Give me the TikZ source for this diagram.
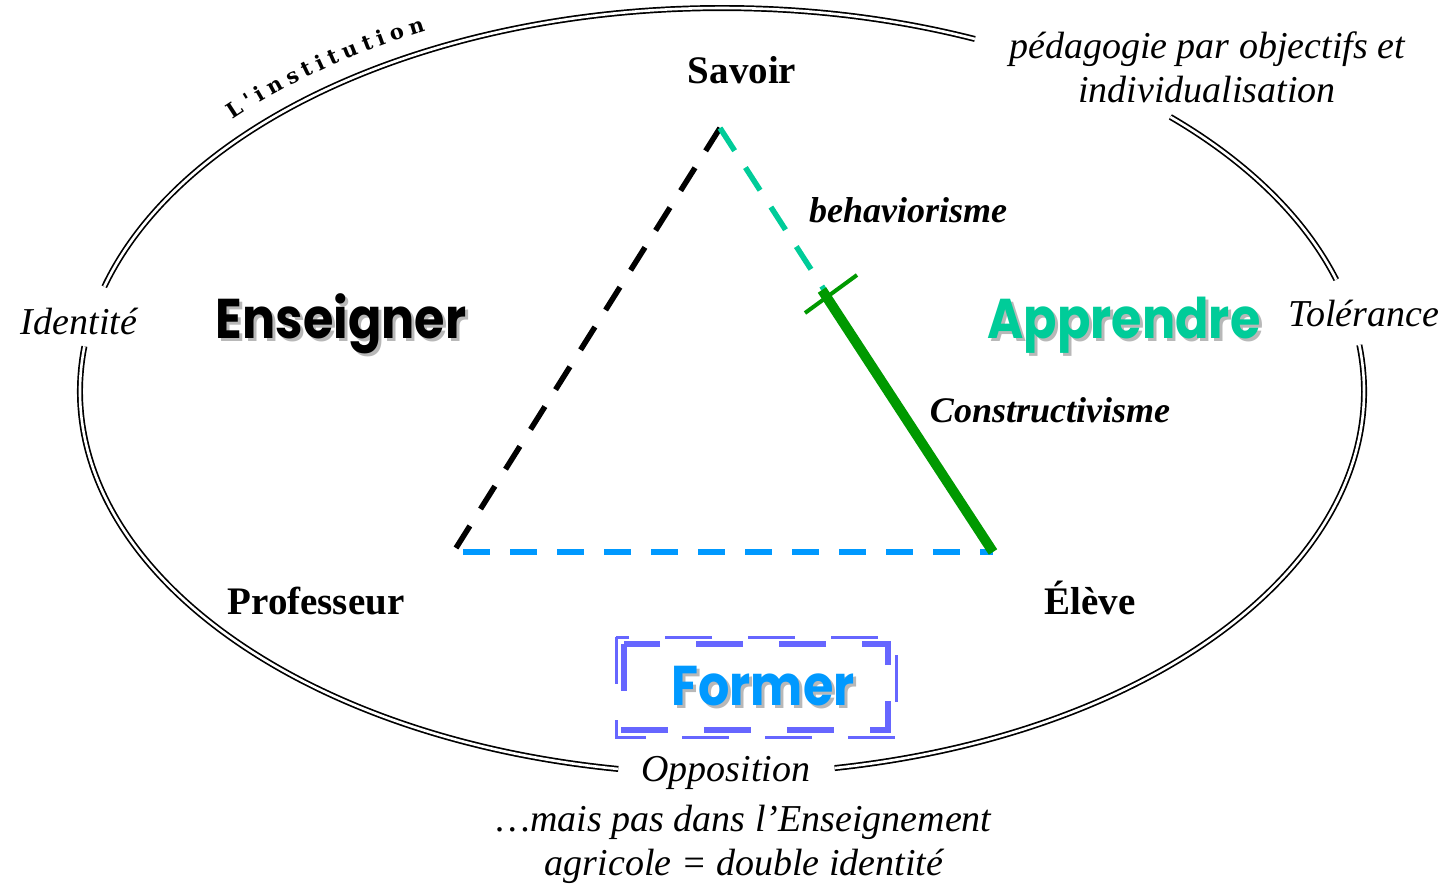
\documentclass[tikz,border=0pt]{standalone}
\usepackage{fontspec}
\usepackage{graphicx}
\setmainfont{Liberation Serif}
\newfontfamily\comic{Poppins}
\newfontfamily\instfont{DejaVu Serif}
\usetikzlibrary{decorations.text}
\definecolor{teal1}{HTML}{00CC99}
\definecolor{blue1}{HTML}{0099FF}
\definecolor{green1}{HTML}{009900}
\definecolor{violet1}{HTML}{6666FF}
\definecolor{shadow1}{HTML}{B8B8B8}
\begin{document}
\begin{tikzpicture}[x=1pt,y=1pt,
  ell/.style={draw=black, double=white, line width=1.7, double distance=2.6},
  itl/.style={font=\fontsize{38}{44}\selectfont\itshape, anchor=base, inner sep=0},
  bdl/.style={font=\fontsize{39}{44}\selectfont\bfseries, anchor=base, inner sep=0},
  bil/.style={font=\fontsize{36}{42}\selectfont\bfseries\itshape, anchor=base, inner sep=0},
  comicl/.style={font=\fontsize{56}{60}\selectfont\comic\bfseries, anchor=base, inner sep=0},
  dashln/.style={line width=5.5, dash pattern=on 27 off 20},
  framebox/.style={draw=violet1, dash pattern=on 47 off 36}
]
\useasboundingbox (0,0) rectangle (1456,-884);

% ellipse (double line), broken where labels sit
\draw[ell] (722,-391) ++(66.8:642 and 383) arc[start angle=66.8, end angle=164.2, x radius=642, y radius=383];
\draw[ell] (722,-391) ++(173.3:642 and 383) arc[start angle=173.3, end angle=260.7, x radius=642, y radius=383];
\draw[ell] (722,-391) ++(280.1:642 and 383) arc[start angle=280.1, end angle=366.9, x radius=642, y radius=383];
\draw[ell] (722,-391) ++(16.9:642 and 383) arc[start angle=16.9, end angle=45.7, x radius=642, y radius=383];

% curved label
\path[decorate, decoration={text along path, text align=fit to path,
  text={|\fontsize{21}{21}\selectfont\instfont\bfseries|L'institution}}]
  (722,-391) ++(137.7:662 and 403) arc[start angle=137.7, end angle=116.6, x radius=662, y radius=403];

% triangle
\coordinate (S) at (720,-128);
\coordinate (P) at (456,-548);
\coordinate (B0) at (463,-552);
\coordinate (E) at (993,-552);
\coordinate (G) at (822,-290);
\coordinate (T1) at (805,-313);
\coordinate (T2) at (857,-275);
\draw[dashln, black] (S) -- (P);
\draw[dashln, blue1] (B0) -- (E);
\draw[dashln, teal1] (S) -- (E);
\draw[green1, line width=10] (G) -- (E);
\draw[green1, line width=4] (T1) -- (T2);

% labels
\node[bdl] (savoir) at (742,-83) {Savoir};
\node[bdl] (prof) at (316,-614) {Professeur};
\node[bdl] (eleve) at (1090,-614) {Élève};
\node[bil] (behav) at (908,-222) {behaviorisme};
\node[bil] (constr) at (1050,-422) {Constructivisme};
\node[itl] (ident) at (79,-334) {Identité};
\node[itl] (toler) at (1364,-326) {Tolérance};
\node[itl] (oppo) at (726,-781) {Opposition};
\node[itl] (peda1) at (1207,-58) {pédagogie par objectifs et};
\node[itl] (peda2) at (1207,-102) {individualisation};
\node[itl] (mais1) at (744,-831) {…mais pas dans l’Enseignement};
\node[itl] (mais2) at (744,-875) {agricole = double identité};

% big words with shadows
\node[comicl, text=shadow1] (ensS) at (344,-341) {\scalebox{0.88}[1]{Enseigner}};
\node[comicl, text=black] (ens) at (341,-338) {\scalebox{0.88}[1]{Enseigner}};
\node[comicl, text=shadow1] (appS) at (1127,-341) {\scalebox{0.88}[1]{Apprendre}};
\node[comicl, text=teal1] (app) at (1124,-338) {\scalebox{0.88}[1]{Apprendre}};

% Former frame
\draw[framebox, line width=3] (616,-637) rectangle (896,-737);
\draw[framebox, line width=6] (624,-644) rectangle (888,-730);
\node[comicl, text=shadow1] (forS) at (766,-708) {\scalebox{0.88}[1]{Former}};
\node[comicl, text=blue1] (for) at (763,-705) {\scalebox{0.88}[1]{Former}};
\end{tikzpicture}
\end{document}
